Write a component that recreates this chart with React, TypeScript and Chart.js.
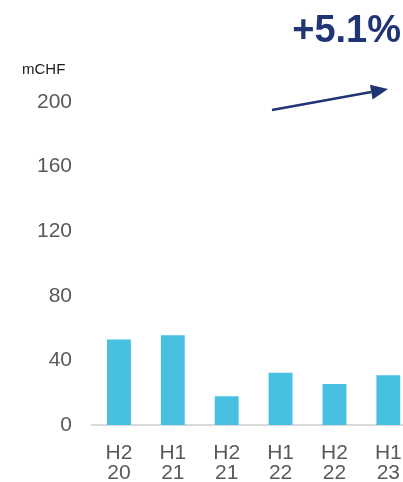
import React, { useEffect, useRef } from "react";
import { Chart, registerables } from "chart.js";

Chart.register(...registerables);

const categories: string[][] = [["H2", "20"], ["H1", "21"], ["H2", "21"], ["H1", "22"], ["H2", "22"], ["H1", "23"]];
const values: number[] = [52.9, 55.5, 17.8, 32.4, 25.4, 30.8];
const yTicks: number[] = [0, 40, 80, 120, 160, 200];
const unitLabel = "mCHF";
const growthLabel = "+5.1%";

const FONT = "'Liberation Sans', Arial, sans-serif";
const NAVY = "#1F3574";

const overlay = {
  id: "overlay",
  afterDraw(chart: any) {
    const ctx = chart.ctx;
    ctx.save();
    ctx.fillStyle = "#1a1a1a";
    ctx.font = `15px ${FONT}`;
    ctx.textAlign = "left";
    ctx.textBaseline = "alphabetic";
    ctx.fillText(unitLabel, 22, 74);

    ctx.fillStyle = NAVY;
    ctx.font = `bold 38px ${FONT}`;
    ctx.textAlign = "right";
    ctx.fillText(growthLabel, 401, 42);

    // arrow
    const x0 = 272, y0 = 110, x1 = 388, y1 = 89;
    const ang = Math.atan2(y1 - y0, x1 - x0);
    const headLen = 17, headW = 7.5;
    const bx = x1 - headLen * Math.cos(ang);
    const by = y1 - headLen * Math.sin(ang);
    ctx.strokeStyle = NAVY;
    ctx.lineWidth = 2.5;
    ctx.beginPath();
    ctx.moveTo(x0, y0);
    ctx.lineTo(bx, by);
    ctx.stroke();
    ctx.beginPath();
    ctx.moveTo(x1, y1);
    ctx.lineTo(bx + headW * Math.sin(ang), by - headW * Math.cos(ang));
    ctx.lineTo(bx - headW * Math.sin(ang), by + headW * Math.cos(ang));
    ctx.closePath();
    ctx.fill();
    ctx.restore();
  },
};

export default function App() {
  const ref = useRef<HTMLCanvasElement | null>(null);
  useEffect(() => {
    if (!ref.current) return;
    const chart = new Chart(ref.current, {
      type: "bar",
      data: {
        labels: categories,
        datasets: [
          {
            data: values,
            backgroundColor: "#46BFE0",
            borderWidth: 0,
            categoryPercentage: 1,
            barPercentage: 0.443,
          },
        ],
      },
      options: {
        animation: false,
        responsive: false,
        maintainAspectRatio: false,
        layout: { padding: { top: 102, right: 3, left: 0, bottom: 0 } },
        plugins: { legend: { display: false }, tooltip: { enabled: false } },
        scales: {
          x: {
            grid: { display: false, drawTicks: false },
            border: { display: true, color: "#D9D9D9", width: 2 },
            ticks: {
              color: "#595959",
              font: { family: FONT, size: 21, lineHeight: 0.95 },
              padding: 18,
              maxRotation: 0,
              autoSkip: false,
            },
            afterFit: (s: any) => { s.height = 57; },
          },
          y: {
            min: 0,
            max: 200,
            afterBuildTicks: (s: any) => { s.ticks = yTicks.map((v) => ({ value: v })); },
            grid: { display: false, drawTicks: false },
            border: { display: false },
            ticks: {
              color: "#595959",
              font: { family: FONT, size: 21 },
              padding: 20,
            },
            afterFit: (s: any) => { s.width = 92; },
          },
        },
      },
      plugins: [overlay],
    });
    return () => chart.destroy();
  }, []);
  return (
    <div style={{ position: "fixed", left: 0, top: 0, width: 403, height: 482, overflow: "hidden", background: "#fff" }}>
      <canvas ref={ref} width={420} height={482} style={{ display: "block" }} />
    </div>
  );
}
